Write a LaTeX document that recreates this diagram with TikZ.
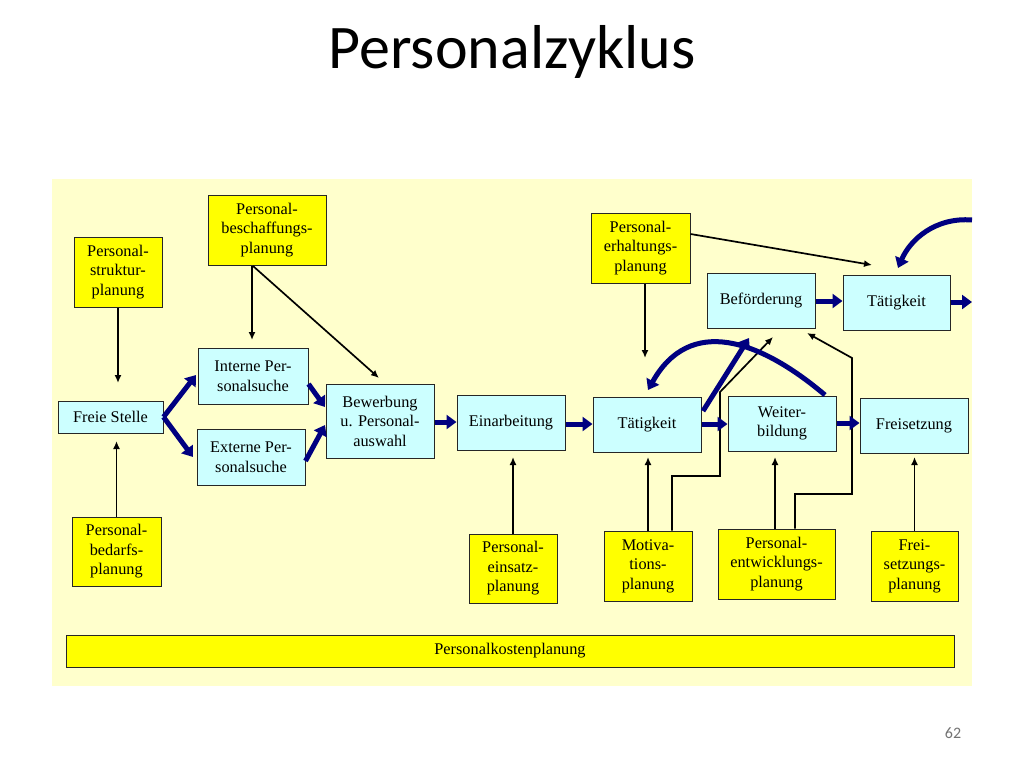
\documentclass[tikz,border=0pt]{standalone}
\usepackage{fontspec}
\setmainfont{Liberation Serif}
\newfontfamily\titlefont{Carlito}
\usetikzlibrary{arrows.meta}
\definecolor{panel}{HTML}{FFFFCC}
\definecolor{ybox}{HTML}{FFFF00}
\definecolor{cbox}{HTML}{CCFFFF}
\definecolor{navyarr}{HTML}{000080}
\tikzset{
  box/.style={draw=black!85, line width=1pt, inner sep=1pt, align=center,
    font=\fontsize{16.3}{19.5}\selectfont},
  yb/.style={box, fill=ybox},
  cb/.style={box, fill=cbox},
  thinarr/.style={line width=1.7pt, -{Latex[length=8pt,width=7pt]}},
  thickarr/.style={line width=5pt, navyarr, -{Triangle[length=10pt,width=14pt]}},
}
\begin{document}
\begin{tikzpicture}[x=1pt,y=-1pt]
\useasboundingbox (0,0) rectangle (1024,768);
\fill[white] (0,0) rectangle (1024,768);
\fill[panel] (52,179) rectangle (972,686);
\node[font=\titlefont\fontsize{62}{62}\selectfont] (title) at (512,52) {Personalzyklus};
\node[font=\titlefont\fontsize{16}{16}\selectfont, text=black!55] (pnum) at (953,733) {62};

% yellow planning boxes
\node[yb, minimum width=118, minimum height=70] (besch) at (267,230) {Personal-\\beschaffungs-\\planung};
\node[yb, minimum width=88, minimum height=70] (strukt) at (118,272) {Personal-\\struktur-\\planung};
\node[yb, minimum width=99, minimum height=70] (erhalt) at (640.5,248) {Personal-\\erhaltungs-\\planung};
\node[yb, minimum width=89, minimum height=69] (bedarf) at (116.5,551.5) {Personal-\\bedarfs-\\planung};
\node[yb, minimum width=88, minimum height=69] (einsatz) at (513,568.5) {Personal-\\einsatz-\\planung};
\node[yb, minimum width=88, minimum height=70] (motiv) at (648,566) {Motiva-\\tions-\\planung};
\node[yb, minimum width=117, minimum height=70] (entw) at (776.5,564) {Personal-\\entwicklungs-\\planung};
\node[yb, minimum width=87, minimum height=70] (freisp) at (914.5,566) {Frei-\\setzungs-\\planung};
\node[yb, minimum width=888, minimum height=32] (kosten) at (510,651) {Personalkostenplanung};

% cyan process boxes
\node[cb, minimum width=105, minimum height=32] (freie) at (110.5,417) {Freie Stelle};
\node[cb, minimum width=110, minimum height=56] (intern) at (253,376) {Interne Per-\\sonalsuche};
\node[cb, minimum width=108, minimum height=56] (extern) at (251,457) {Externe Per-\\sonalsuche};
\node[cb, minimum width=108, minimum height=74] (bewerb) at (380,421) {Bewerbung\\u. Personal-\\auswahl};
\node[cb, minimum width=108, minimum height=55] (einarb) at (511,422.5) {Einarbeitung};
\node[cb, minimum width=108, minimum height=55] (taet1) at (647,424.5) {Tätigkeit};
\node[cb, minimum width=108, minimum height=55] (weiter) at (782,423.5) {Weiter-\\bildung};
\node[cb, minimum width=108, minimum height=55] (freis) at (914,425.5) {Freisetzung};
\node[cb, minimum width=108, minimum height=55] (befoe) at (761,300.5) {Beförderung};
\node[cb, minimum width=107, minimum height=55] (taet2) at (896.5,302.5) {Tätigkeit};

% end coordinates of thin arrows
\coordinate (e1) at (118,383);
\coordinate (e2) at (116.5,441);
\coordinate (e3) at (252,340);
\coordinate (e4) at (379,378);
\coordinate (e5) at (645,358);
\coordinate (e6) at (872,265);
\coordinate (e7) at (513,457);
\coordinate (e8) at (648,457);
\coordinate (e9) at (773,337);
\coordinate (e10) at (775,457);
\coordinate (e11) at (807,333);
\coordinate (e12) at (914.5,457);

\draw[thinarr] (strukt.south) -- (e1);
\draw[thinarr] (bedarf.north) -- (e2);
\draw[thinarr] (besch.south -| e3) -- (e3);
\draw[thinarr] (253,266) -- (e4);
\draw[thinarr] (erhalt.south -| e5) -- (e5);
\draw[thinarr] (erhalt.east |- 0,234) -- (e6);
\draw[thinarr] (einsatz.north) -- (e7);
\draw[thinarr] (motiv.north) -- (e8);
\draw[thinarr] (motiv.north -| 672,0) |- (720,476) -- (720,392) -- (e9);
\draw[thinarr] (entw.north -| 775,0) -- (e10);
\draw[thinarr] (entw.north -| 795,0) |- (852,494) -- (852,358) -- (e11);
\draw[thinarr] (freisp.north) -- (e12);

% thick navy arrows
\coordinate (t1) at (196,375);
\coordinate (t2) at (193,457);
\draw[thickarr] (freie.east) -- (t1);
\draw[thickarr] (freie.east) -- (t2);
\draw[thickarr] (intern.east |- 0,384) -- (325,407);
\draw[thickarr] (extern.east |- 0,461) -- (325,425);
\draw[thickarr] (bewerb.east |- 0,422) -- (einarb.west |- 0,422);
\draw[thickarr] (einarb.east |- 0,424) -- (taet1.west |- 0,424);
\draw[thickarr] (taet1.east |- 0,424) -- (weiter.west |- 0,424);
\draw[thickarr] (weiter.east |- 0,423) -- (freis.west |- 0,423);
\draw[thickarr] (befoe.east |- 0,301) -- (taet2.west |- 0,301);
\coordinate (rx) at (972,302);
\draw[thickarr] (taet2.east |- 0,302) -- (rx);
\coordinate (c0) at (972,220);
\draw[thickarr] (c0) .. controls (935,217) and (910,240) .. (898,268);
\draw[thickarr] (703,411) -- (749,338);
\draw[thickarr] (825,395) .. controls (760,340) and (690,315) .. (648,390);
\end{tikzpicture}
\end{document}
